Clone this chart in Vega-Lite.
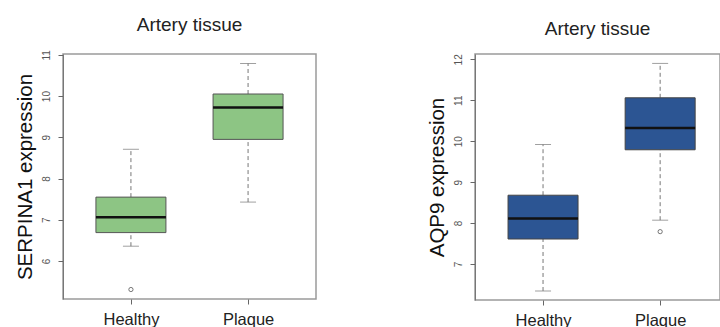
{
  "$schema": "https://vega.github.io/schema/vega-lite/v6.json",
  "background": "white",
  "padding": {"left": 14, "top": 14, "right": 0, "bottom": 0},
  "spacing": 109,
  "config": {
    "font": "Liberation Sans",
    "view": {"stroke": "#9a9a9a", "strokeWidth": 1.5},
    "title": {"fontSize": 19, "fontWeight": "normal", "color": "#222", "anchor": "middle", "frame": "group", "baseline": "alphabetic", "offset": 15},
    "axisY": {"domain": true, "domainColor": "#777", "grid": false, "tickColor": "#666", "tickSize": 5, "labelFontSize": 10, "labelColor": "#555", "labelAngle": 270, "labelAlign": "center", "labelBaseline": "bottom", "labelPadding": 7, "titleFontSize": 20.5, "titleFontWeight": "normal", "titleColor": "#111", "titlePadding": 6},
    "axisX": {"domain": false, "grid": false, "tickColor": "#666", "tickSize": 5, "labelFontSize": 16.5, "labelColor": "#222", "labelAngle": 0, "labelBaseline": "alphabetic", "labelPadding": 20, "title": null}
  },
  "datasets": {
    "serpina1": [
      {"group": "Healthy", "lo": 6.36, "q1": 6.69, "median": 7.06, "q3": 7.55, "hi": 8.71, "outlier": 5.31},
      {"group": "Plaque", "lo": 7.43, "q1": 8.95, "median": 9.72, "q3": 10.05, "hi": 10.79, "outlier": null}
    ],
    "aqp9": [
      {"group": "Healthy", "lo": 6.34, "q1": 7.61, "median": 8.11, "q3": 8.68, "hi": 9.92, "outlier": null},
      {"group": "Plaque", "lo": 8.07, "q1": 9.79, "median": 10.32, "q3": 11.06, "hi": 11.9, "outlier": 7.79}
    ]
  },
  "hconcat": [
    {
      "title": "Artery tissue",
      "width": 253,
      "height": 245,
      "data": {"name": "serpina1"},
      "encoding": {
        "x": {"field": "group", "type": "nominal", "scale": {"type": "point", "padding": 0.58}, "axis": {"title": null}}
      },
      "layer": [
        {"mark": {"type": "rule", "color": "#777", "strokeDash": [4, 3], "strokeWidth": 1},
         "encoding": {"y": {"field": "lo", "type": "quantitative", "scale": {"domain": [5.08, 11.02], "nice": false, "zero": false}, "axis": {"values": [6, 7, 8, 9, 10, 11], "title": "SERPINA1 expression"}}, "y2": {"field": "q1"}}},
        {"mark": {"type": "rule", "color": "#777", "strokeDash": [4, 3], "strokeWidth": 1},
         "encoding": {"y": {"field": "q3", "type": "quantitative"}, "y2": {"field": "hi"}}},
        {"mark": {"type": "tick", "orient": "horizontal", "size": 16, "thickness": 1, "color": "#777"},
         "encoding": {"y": {"field": "lo", "type": "quantitative"}}},
        {"mark": {"type": "tick", "orient": "horizontal", "size": 16, "thickness": 1, "color": "#777"},
         "encoding": {"y": {"field": "hi", "type": "quantitative"}}},
        {"mark": {"type": "bar", "size": 70, "fill": "#8DC584", "stroke": "#555", "strokeWidth": 1},
         "encoding": {"y": {"field": "q1", "type": "quantitative"}, "y2": {"field": "q3"}}},
        {"mark": {"type": "tick", "orient": "horizontal", "size": 70, "thickness": 2.5, "color": "#111", "opacity": 1},
         "encoding": {"y": {"field": "median", "type": "quantitative"}}},
        {"mark": {"type": "point", "shape": "circle", "size": 18, "filled": false, "stroke": "#555", "strokeWidth": 0.8, "opacity": 1},
         "encoding": {"y": {"field": "outlier", "type": "quantitative"}}}
      ]
    },
    {
      "title": "Artery tissue",
      "width": 245,
      "height": 246,
      "data": {"name": "aqp9"},
      "encoding": {
        "x": {"field": "group", "type": "nominal", "scale": {"type": "point", "padding": 0.546, "align": 0.532}, "axis": {"title": null}}
      },
      "layer": [
        {"mark": {"type": "rule", "color": "#777", "strokeDash": [4, 3], "strokeWidth": 1},
         "encoding": {"y": {"field": "lo", "type": "quantitative", "scale": {"domain": [6.12, 12.13], "nice": false, "zero": false}, "axis": {"values": [7, 8, 9, 10, 11, 12], "title": "AQP9 expression"}}, "y2": {"field": "q1"}}},
        {"mark": {"type": "rule", "color": "#777", "strokeDash": [4, 3], "strokeWidth": 1},
         "encoding": {"y": {"field": "q3", "type": "quantitative"}, "y2": {"field": "hi"}}},
        {"mark": {"type": "tick", "orient": "horizontal", "size": 16, "thickness": 1, "color": "#777"},
         "encoding": {"y": {"field": "lo", "type": "quantitative"}}},
        {"mark": {"type": "tick", "orient": "horizontal", "size": 16, "thickness": 1, "color": "#777"},
         "encoding": {"y": {"field": "hi", "type": "quantitative"}}},
        {"mark": {"type": "bar", "size": 70, "fill": "#2C5593", "stroke": "#444", "strokeWidth": 1},
         "encoding": {"y": {"field": "q1", "type": "quantitative"}, "y2": {"field": "q3"}}},
        {"mark": {"type": "tick", "orient": "horizontal", "size": 70, "thickness": 2.5, "color": "#111", "opacity": 1},
         "encoding": {"y": {"field": "median", "type": "quantitative"}}},
        {"mark": {"type": "point", "shape": "circle", "size": 18, "filled": false, "stroke": "#555", "strokeWidth": 0.8, "opacity": 1},
         "encoding": {"y": {"field": "outlier", "type": "quantitative"}}}
      ]
    }
  ]
}
